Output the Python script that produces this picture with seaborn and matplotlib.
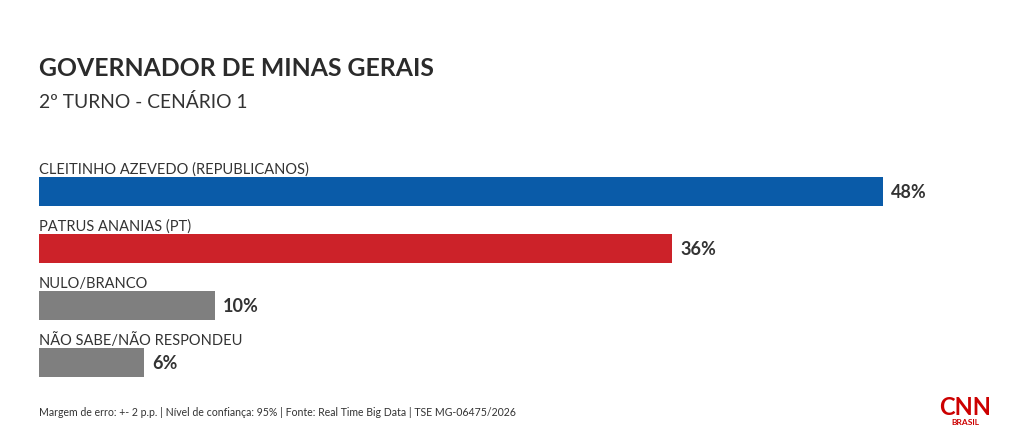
import matplotlib
matplotlib.use("Agg")
import matplotlib.pyplot as plt
import seaborn as sns
import pandas as pd

categories = ["CLEITINHO AZEVEDO (REPUBLICANOS)", "PATRUS ANANIAS (PT)",
              "NULO/BRANCO", "NÃO SABE/NÃO RESPONDEU"]
values = [48, 36, 10, 6]
value_labels = ["48%", "36%", "10%", "6%"]
colors = ["#0A5BA8", "#CC2229", "#7F7F7F", "#7F7F7F"]

title = "GOVERNADOR DE MINAS GERAIS"
subtitle = "2º TURNO - CENÁRIO 1"
footer = "Margem de erro: +- 2 p.p. | Nível de confiança: 95% | Fonte: Real Time Big Data | TSE MG-06475/2026"

sns.set_theme(style="white")
FONT = ["Lato", "DejaVu Sans"]
plt.rcParams["font.family"] = FONT
TXT = "#333333"

df = pd.DataFrame({"cat": categories, "val": values})

W, H = 1020, 439
fig = plt.figure(figsize=(W / 100, H / 100), dpi=100)
fig.patch.set_facecolor("white")

px_per_unit = 844 / 48
xmax = 55
ax_left = 39 / W
ax_w = xmax * px_per_unit / W
top_px = 192.5 - 57 * 0.9
bot_px = 192.5 + 57 * 3.6
ax = fig.add_axes([ax_left, 1 - bot_px / H, ax_w, (bot_px - top_px) / H])

sns.barplot(data=df, x="val", y="cat", hue="cat", palette=dict(zip(categories, colors)),
            order=categories, orient="h", width=29 / 57, legend=False, ax=ax,
            saturation=1, linewidth=0, edgecolor="none")
ax.set_xlim(0, xmax)
ax.set_ylim(3.6, -0.9)
ax.axis("off")

for i, (c, v, lab) in enumerate(zip(categories, values, value_labels)):
    ax.text(0, i - 0.33, c, ha="left", va="baseline", fontsize=10.5, color=TXT)
    ax.text(v + 8 / px_per_unit, i, lab, ha="left", va="center", fontsize=13,
            fontweight="bold", color=TXT)

fig.text(39 / W, 1 - 76 / H, title, ha="left", va="baseline", fontsize=17.8,
         fontweight="bold", color="#2b2b2b")
fig.text(39 / W, 1 - 108 / H, subtitle, ha="left", va="baseline", fontsize=13.9,
         color=TXT)
fig.text(39 / W, 1 - 416 / H, footer, ha="left", va="baseline", fontsize=7.6,
         color=TXT)
fig.text(965 / W, 1 - 415 / H, "CNN", ha="center", va="baseline", fontsize=17,
         fontweight="bold", color="#CC0000")
fig.text(965 / W, 1 - 425 / H, "BRASIL", ha="center", va="baseline", fontsize=6,
         fontweight="bold", color="#CC0000")

fig.savefig("out.png", dpi=100, facecolor="white")
